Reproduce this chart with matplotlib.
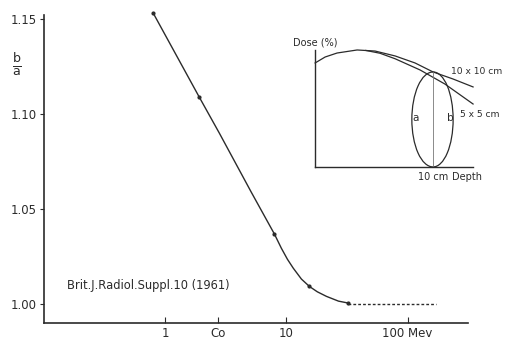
import matplotlib.pyplot as plt
from matplotlib.patches import Arc

# main curve: b/a ratio vs energy (MeV)
energy = [0.796, 1.91, 2.80, 5.13, 7.96, 9.09, 10.2, 11.4, 13.3, 15.5, 18.0,
          21.4, 26.9, 32.3]
ratio = [1.153, 1.1088, 1.0898, 1.0588, 1.0368, 1.0293, 1.0235, 1.0188, 1.0131,
         1.0092, 1.0064, 1.0040, 1.0015, 1.0005]
meas_energy = [0.796, 1.91, 7.96, 15.5, 32.3]
meas_ratio = [1.153, 1.1088, 1.0368, 1.0092, 1.0005]
ext_energy = [32.3, 170]
ext_ratio = [1.0, 1.0]

x_ticks = [1, 2.74, 10, 100]
x_labels = ['1', 'Co', '10', '100 Mev']
y_ticks = [1.00, 1.05, 1.10, 1.15]
y_labels = ['1.00', '1.05', '1.10', '1.15']

# inset: depth dose sketch
depth_10 = [0, 0.85, 1.86, 3.56, 5.08, 6.78, 8.47, 10.0, 11.69, 13.39]
dose_10 = [88.9, 94.0, 97.4, 100, 99.1, 94.9, 88.9, 81.2, 75.2, 68.4]
depth_5 = [4.3, 5.5, 6.78, 8.9, 11.0, 13.39]
dose_5 = [99.6, 97.2, 92.5, 82.9, 70.9, 53.8]

INK = '#2b2b2b'
plt.rcParams['font.family'] = 'DejaVu Sans'
plt.rcParams['mathtext.fontset'] = 'dejavusans'

fig = plt.figure(figsize=(5.05, 3.4), dpi=100)
ax = fig.add_axes([0.0871, 0.050, 0.840, 0.906])
ax.set_xscale('log')
ax.set_xlim(0.1, 316)
ax.set_ylim(0.990, 1.152)

ax.plot(energy, ratio, color=INK, lw=1.0, clip_on=False)
ax.plot(meas_energy, meas_ratio, 'o', color=INK, ms=2, clip_on=False)
ax.plot(ext_energy, ext_ratio, color=INK, lw=1.0, ls=(0, (2, 1.5)))

for s in ['top', 'right']:
    ax.spines[s].set_visible(False)
for s in ['left', 'bottom']:
    ax.spines[s].set_color(INK)
    ax.spines[s].set_linewidth(1.2)

ax.set_xticks(x_ticks)
ax.set_xticklabels(x_labels)
ax.minorticks_off()
ax.tick_params(axis='x', direction='in', length=4, width=0.8, colors=INK,
               labelsize=8.5, pad=3)
ax.set_yticks(y_ticks)
ax.set_yticklabels(y_labels)
ax.tick_params(axis='y', direction='out', length=3, width=0.8, colors=INK,
               labelsize=8.5, pad=2)

fig.text(0.033, 0.81, r'$\frac{\mathrm{b}}{\mathrm{a}}$', fontsize=13,
         color=INK, ha='center', va='center')
ax.text(0.155, 1.0097, 'Brit.J.Radiol.Suppl.10 (1961)', fontsize=8.3,
        color=INK, ha='left', va='center')

# inset
ax_in = fig.add_axes([0.624, 0.509, 0.313, 0.344])
ax_in.set_xlim(0, 13.4)
ax_in.set_ylim(0, 100)
ax_in.patch.set_alpha(0)
for s in ['top', 'right']:
    ax_in.spines[s].set_visible(False)
for s in ['left', 'bottom']:
    ax_in.spines[s].set_color(INK)
    ax_in.spines[s].set_linewidth(1.0)
ax_in.set_xticks([])
ax_in.set_yticks([])

ax_in.plot(depth_10, dose_10, color=INK, lw=0.9, clip_on=False)
ax_in.plot(depth_5, dose_5, color=INK, lw=0.9, clip_on=False)
ax_in.plot([10, 10], [0, 81.2], color='#777777', lw=0.6)
ax_in.add_patch(Arc((10, 40.6), 3.6, 81.2, theta1=90, theta2=270,
                    color=INK, lw=0.9))
ax_in.add_patch(Arc((10, 40.6), 3.4, 81.2, theta1=-90, theta2=90,
                    color=INK, lw=0.9))

ax_in.text(-1.86, 106, 'Dose (%)', fontsize=7, color=INK, ha='left',
           va='center', clip_on=False)
ax_in.text(11.5, 81.5, '10 x 10 cm', fontsize=6.6, color=INK, ha='left',
           va='center', clip_on=False)
ax_in.text(12.3, 44.5, '5 x 5 cm', fontsize=6.6, color=INK, ha='left',
           va='center', clip_on=False)
ax_in.text(8.5, 41.5, 'a', fontsize=7.5, color=INK, ha='center',
           va='center')
ax_in.text(11.45, 41.5, 'b', fontsize=7.5, color=INK, ha='center',
           va='center')
ax_in.text(10, -8.5, '10 cm', fontsize=7, color=INK, ha='center',
           va='center', clip_on=False)
ax_in.text(11.6, -8.5, 'Depth', fontsize=7, color=INK, ha='left',
           va='center', clip_on=False)

fig.savefig('out.png', dpi=100, facecolor='white')
